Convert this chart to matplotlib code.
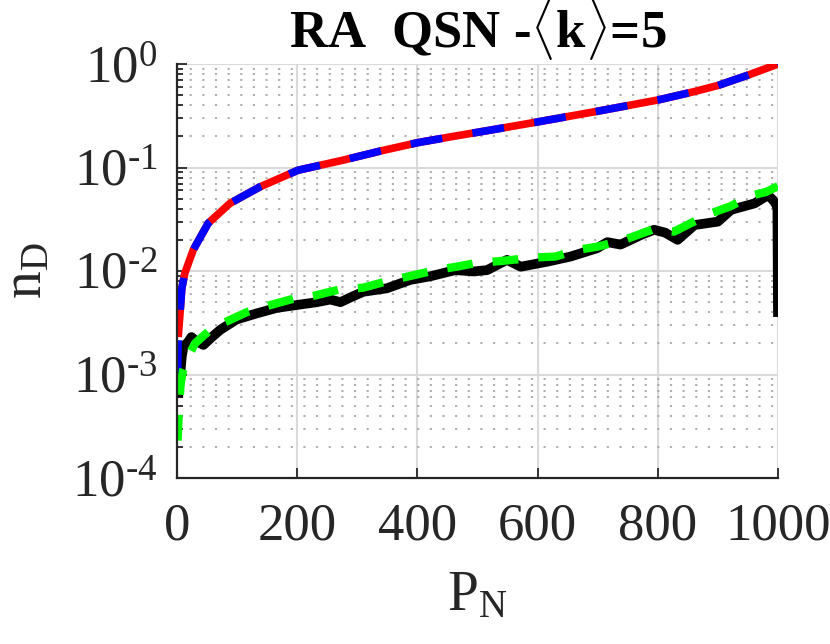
import numpy as np
import matplotlib.pyplot as plt
from matplotlib.ticker import FixedLocator, FixedFormatter, LogLocator, NullFormatter

plt.rcParams['font.family'] = ['Liberation Serif', 'DejaVu Serif']
plt.rcParams['mathtext.fontset'] = 'custom'
plt.rcParams['mathtext.rm'] = 'Liberation Serif'
plt.rcParams['mathtext.it'] = 'Liberation Serif:italic'
plt.rcParams['mathtext.bf'] = 'Liberation Serif:bold'

# Data

red_x = [2, 5, 8, 13, 27, 52, 88, 138, 201, 277, 340, 401, 460, 522, 602, 700, 801, 860,
         900, 950, 1000]
red_y = [0.0023, 0.0039, 0.0068, 0.0095, 0.016, 0.029, 0.045, 0.065, 0.094, 0.118, 0.145,
         0.174, 0.20, 0.23, 0.277, 0.35, 0.45, 0.54, 0.62, 0.78, 1.0]

blue_x = [1] + red_x
blue_y = [0.00105] + red_y

black_x = [2, 3, 5, 8, 11, 17, 24, 32, 44, 58, 72, 99, 133, 166, 200, 233, 255, 272, 290,
           310, 349, 388, 422, 463, 494, 516, 549, 572, 616, 655, 699, 716, 738, 755, 772,
           794, 812, 833, 861, 900, 922, 961, 983, 991, 997, 999, 1000]
black_y = [6e-4, 7.5e-4, 9.5e-4, 1.5e-3, 1.9e-3, 2.0e-3, 2.3e-3, 2.1e-3, 1.93e-3, 2.3e-3,
           2.7e-3, 3.4e-3, 3.9e-3, 4.4e-3, 4.7e-3, 5.0e-3, 5.3e-3, 5.0e-3, 5.6e-3,
           6.3e-3, 6.8e-3, 8.2e-3, 8.9e-3, 1.02e-2, 9.9e-3, 1.02e-2, 1.28e-2, 1.1e-2,
           1.23e-2, 1.38e-2, 1.66e-2, 1.9e-2, 1.8e-2, 2.0e-2, 2.23e-2,
           2.5e-2, 2.35e-2, 2.0e-2, 2.78e-2, 3.0e-2, 3.9e-2, 4.5e-2, 5.4e-2, 4.9e-2,
           4.4e-2, 4.0e-2, 3.6e-3]

green_x = [1, 3, 6, 10, 19, 30, 52, 80, 116, 150, 194, 230, 269, 310, 347, 390, 430, 465,
           499, 540, 594, 630, 666, 700, 744, 790, 827, 860, 888, 920, 958, 980, 1000]
green_y = [2.3e-4, 4.5e-4, 8e-4, 1.1e-3, 1.5e-3, 2.0e-3, 2.6e-3, 3.2e-3, 4.0e-3, 4.6e-3,
           5.4e-3, 5.8e-3, 6.6e-3, 6.9e-3, 7.9e-3, 9.0e-3, 1.02e-2, 1.1e-2,
           1.2e-2, 1.25e-2, 1.35e-2, 1.38e-2, 1.6e-2, 1.72e-2, 2.0e-2, 2.5e-2, 2.4e-2,
           3.0e-2, 3.6e-2, 4.2e-2, 5.4e-2, 5.8e-2, 6.6e-2]

x_ticks = [0, 200, 400, 600, 800, 1000]
y_ticks = [1e-4, 1e-3, 1e-2, 1e-1, 1e0]
y_tick_labels = [r'$10^{\text{-}4}$', r'$10^{\text{-}3}$', r'$10^{\text{-}2}$',
                 r'$10^{\text{-}1}$', r'$10^{0}$']

######################### PLOTTING #########################

fig = plt.figure(figsize=(8.3, 6.44), dpi=100)
ax = fig.add_axes([177/830, 1 - 478/644, 601/830, 414/644])

ax.plot(black_x, black_y, color='black', lw=7.0, solid_capstyle='butt', solid_joinstyle='round')
ax.plot(red_x, red_y, color='red', lw=5.5, solid_capstyle='butt')
ax.plot(blue_x, blue_y, color='blue', lw=5.5, dashes=(4.2, 4.0), dash_capstyle='butt')
ax.plot(green_x, green_y, color='#00ff00', lw=6.0, dashes=(3.1, 2.4), dash_capstyle='butt')

ax.set_yscale('log')
ax.set_xlim(0, 1000)
ax.set_ylim(1e-4, 1e0)

ax.xaxis.set_major_locator(FixedLocator(x_ticks))
ax.yaxis.set_major_locator(FixedLocator(y_ticks))
ax.yaxis.set_major_formatter(FixedFormatter(y_tick_labels))
# numticks set high so the minor ticks are not dropped with the big labels
ax.yaxis.set_minor_locator(LogLocator(base=10, subs=np.arange(2, 10), numticks=100))
ax.yaxis.set_minor_formatter(NullFormatter())

for side in ['top', 'right']:
    ax.spines[side].set_visible(False)
for side in ['left', 'bottom']:
    ax.spines[side].set_color('#262626')
    ax.spines[side].set_linewidth(1.6)

ax.tick_params(which='both', direction='in', colors='#262626', labelsize=38, width=1.3)
ax.tick_params(which='major', length=7)
ax.tick_params(axis='x', which='major', pad=18)
ax.tick_params(axis='y', which='major', pad=14)
ax.tick_params(which='minor', length=4)

# grid: solid majors, dotted minors on y only
ax.grid(True, which='major', color='#dadada', lw=1.5, linestyle='-')
ax.grid(True, which='minor', axis='y', color='#a8a8a8', lw=1.3, linestyle=(0, (1.2, 5.8)))
ax.set_axisbelow(True)

ax.set_xlabel(r'P$_\mathregular{N}$', fontsize=40, color='#262626', labelpad=14)
ax.set_ylabel(r'n$_\mathregular{D}$', fontsize=40, color='#262626', labelpad=14)
fig.text(477.5/830, 1 - 47/644, r'RA  QSN -$\langle\mathbf{k}\rangle$=5',
         fontsize=38, fontweight='bold', ha='center', va='baseline')

fig.savefig('out.png', dpi=100)
